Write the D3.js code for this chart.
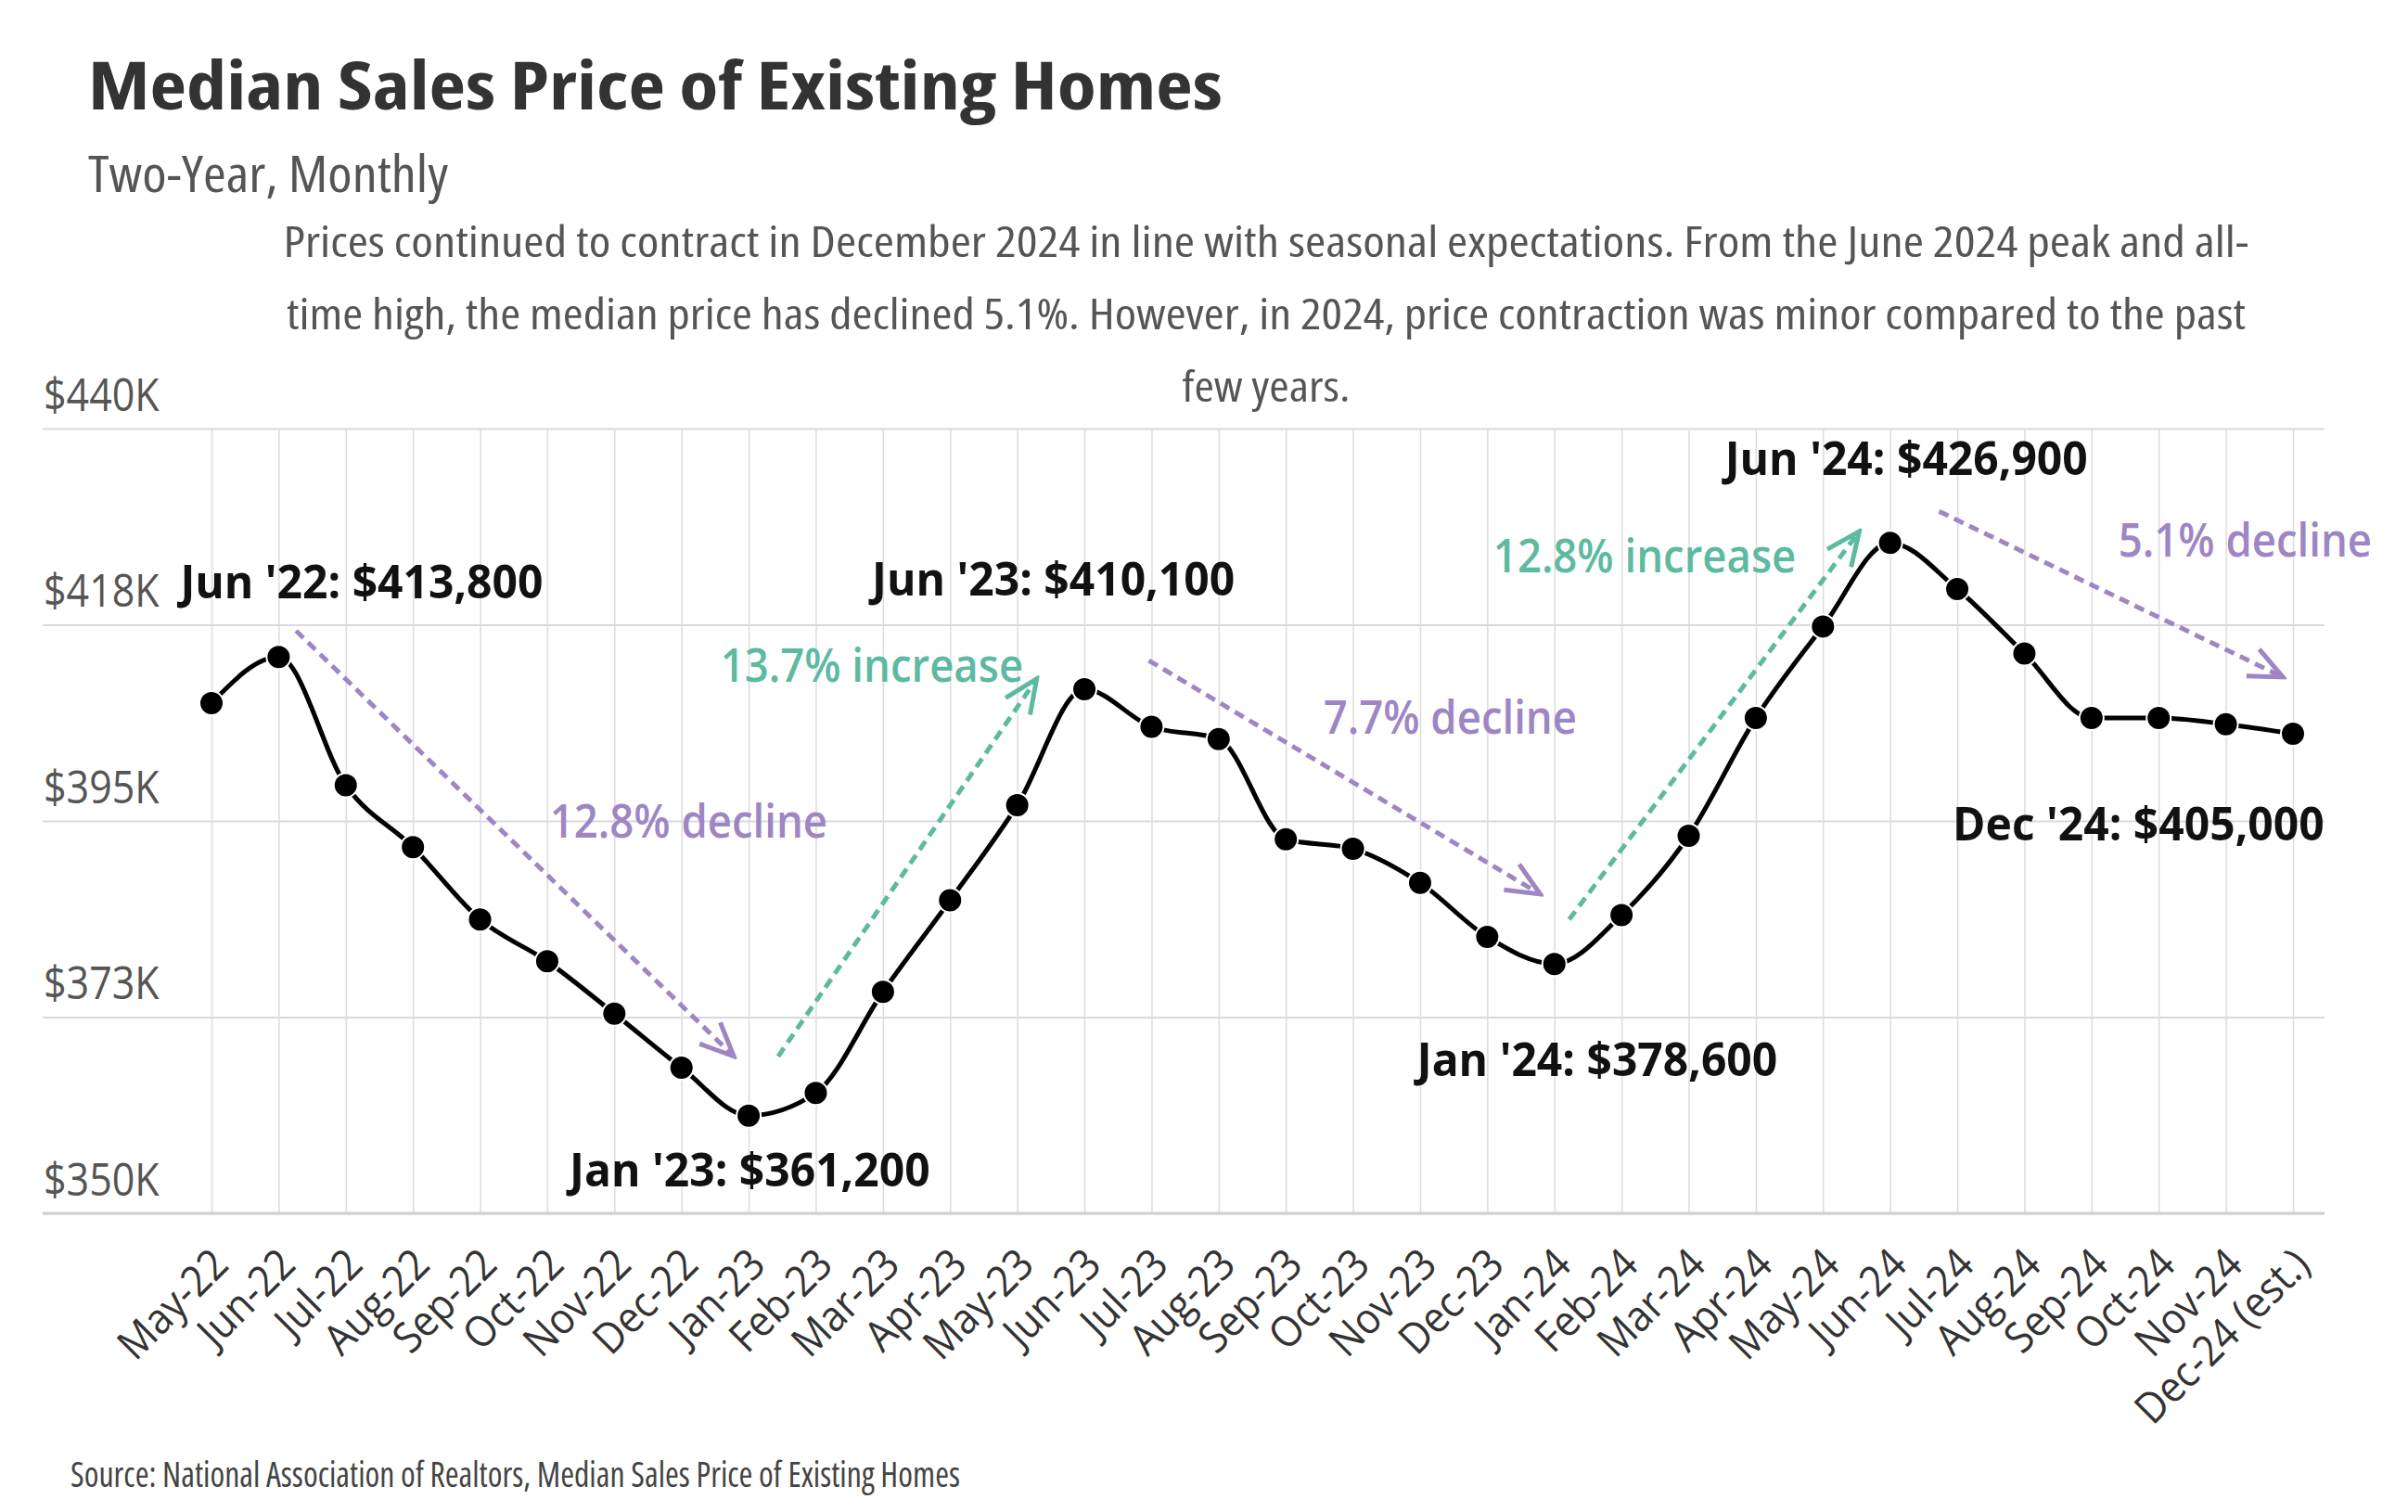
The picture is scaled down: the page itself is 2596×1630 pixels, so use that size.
<!DOCTYPE html>
<html><head><meta charset="utf-8">
<script src="https://cdn.jsdelivr.net/npm/d3@7"></script>
<style>
  body { margin: 0; background: #fff; }
  text { font-family: "Open Sans", sans-serif; font-stretch: 82%; }
  .plabel, .trend-label, .ytick, .xtick { font-stretch: 100%; }
</style>
</head><body>
<script>
// data
var months = ["May-22","Jun-22","Jul-22","Aug-22","Sep-22","Oct-22","Nov-22","Dec-22",
  "Jan-23","Feb-23","Mar-23","Apr-23","May-23","Jun-23","Jul-23","Aug-23","Sep-23","Oct-23","Nov-23","Dec-23",
  "Jan-24","Feb-24","Mar-24","Apr-24","May-24","Jun-24","Jul-24","Aug-24","Sep-24","Oct-24","Nov-24","Dec-24 (est.)"];
var prices = [408500,413800,399100,392000,383700,378900,372900,366700,
  361200,363800,375400,385900,396800,410100,405800,404400,392900,391800,387900,381700,
  378600,384200,393300,406800,417300,426900,421600,414200,406800,406800,406100,405000];
var yTickValues = [350000,372500,395000,417500,440000];
var yTickLabels = ["$350K","$373K","$395K","$418K","$440K"];

// labelled points: month index, text
var pointLabels = [
  {i:1,  text:"Jun '22: $413,800", dx:-106, dy:-63},
  {i:8,  text:"Jan '23: $361,200", dx:-193, dy:76},
  {i:13, text:"Jun '23: $410,100", dx:-229, dy:-101},
  {i:20, text:"Jan '24: $378,600", dx:-148, dy:121},
  {i:25, text:"Jun '24: $426,900", dx:-178, dy:-73},
  {i:31, text:"Dec '24: $405,000", dx:-367, dy:115}
];
// trend arrows in (month index, price) space
var trends = [
  {kind:"down", text:"12.8% decline",  from:[1.26,416800],  to:[7.78,368000],  at:[5.04,393100]},
  {kind:"up",   text:"13.7% increase", from:[8.44,368000],  to:[12.29,411300], at:[7.58,411000]},
  {kind:"down", text:"7.7% decline",   from:[13.96,413400], to:[19.79,386600], at:[16.56,405000]},
  {kind:"up",   text:"12.8% increase", from:[20.22,383700], to:[24.54,428200], at:[19.09,423500]},
  {kind:"down", text:"5.1% decline",   from:[25.73,430500], to:[30.85,411500], at:[28.40,425300]}
];

var W = 2596, H = 1630;
var plot = {left:46, right:2506, top:462, bottom:1308};
var colors = {down:"#9e86c4", up:"#5dbaa1"};

var svg = d3.select("body").append("svg")
    .attr("width", W).attr("height", H);

var x = d3.scalePoint().domain(months).range([228, 2472]);
var xi = d3.scaleLinear().domain([0, months.length - 1]).range([228, 2472]);
var y = d3.scaleLinear().domain([350000, 440000]).range([plot.bottom, plot.top]);

// narrow a text a little (the source font is narrower than Open Sans)
function squeeze(sel, k){
  sel.each(function(){
    var w = this.getComputedTextLength();
    d3.select(this).attr("textLength", w * k).attr("lengthAdjust", "spacingAndGlyphs");
  });
}

// titles
svg.append("text").attr("x", 95).attr("y", 118)
  .attr("textLength", 1223).attr("lengthAdjust", "spacingAndGlyphs")
  .style("font-size", "71px").style("font-weight", 700).style("fill", "#333")
  .text("Median Sales Price of Existing Homes");
svg.append("text").attr("x", 95).attr("y", 207)
  .attr("textLength", 388).attr("lengthAdjust", "spacingAndGlyphs")
  .style("font-size", "55px").style("fill", "#555")
  .text("Two-Year, Monthly");

var desc = [
  ["Prices continued to contract in December 2024 in line with seasonal expectations. From the June 2024 peak and all-", 2119],
  ["time high, the median price has declined 5.1%. However, in 2024, price contraction was minor compared to the past", 2112],
  ["few years.", 181]
];
svg.selectAll(".desc").data(desc).enter().append("text")
  .attr("class", "desc")
  .attr("x", 1365).attr("y", function(d, i){ return 277 + i * 78; })
  .attr("text-anchor", "middle")
  .attr("textLength", function(d){ return d[1]; }).attr("lengthAdjust", "spacingAndGlyphs")
  .style("font-size", "45px").style("fill", "#555")
  .text(function(d){ return d[0]; });

// y axis + horizontal grid
var yAxis = d3.axisLeft(y).tickValues(yTickValues)
  .tickFormat(function(d, i){ return yTickLabels[i]; })
  .tickSize(-(plot.right - plot.left));
var yg = svg.append("g").attr("transform", "translate(" + plot.left + ",0)").call(yAxis);
yg.select(".domain").remove();
yg.attr("font-family", null);
yg.selectAll(".tick line").attr("stroke", "#d9d9d9").attr("stroke-width", 2);
yg.selectAll(".tick text")
  .attr("class", "ytick")
  .attr("x", 1).attr("dy", -20).attr("text-anchor", "start")
  .style("font-size", "50px").style("fill", "#555")
  .call(squeeze, 0.86);

// x axis + vertical grid
var xAxis = d3.axisBottom(x).tickSize(-(plot.bottom - plot.top)).tickSizeOuter(0);
var xg = svg.append("g").attr("transform", "translate(0," + plot.bottom + ")").call(xAxis);
xg.select(".domain").remove();
xg.attr("font-family", null);
xg.selectAll(".tick line").attr("stroke", "#dcdcdc").attr("stroke-width", 1.5);
xg.selectAll(".tick text")
  .attr("class", "xtick")
  .attr("y", 0).attr("dy", 0)
  .attr("text-anchor", "end")
  .attr("transform", "translate(20,58) rotate(-45)")
  .style("font-size", "46px").style("fill", "#333")
  .call(squeeze, 0.92);
svg.append("line")
  .attr("x1", plot.left).attr("x2", plot.right)
  .attr("y1", plot.bottom).attr("y2", plot.bottom)
  .attr("stroke", "#d0d0d0").attr("stroke-width", 3);

// arrow markers
var defs = svg.append("defs");
["down", "up"].forEach(function(k){
  defs.append("marker")
    .attr("id", "head-" + k)
    .attr("markerUnits", "userSpaceOnUse")
    .attr("viewBox", "-40 -20 44 40")
    .attr("refX", 0).attr("refY", 0)
    .attr("markerWidth", 44).attr("markerHeight", 40)
    .attr("orient", "auto")
    .append("path")
    .attr("d", "M-36,-16L0,0L-36,16")
    .attr("fill", "none").attr("stroke", colors[k]).attr("stroke-width", 5);
});

svg.selectAll(".trend").data(trends).enter().append("line")
  .attr("class", "trend")
  .attr("x1", function(d){ return xi(d.from[0]); })
  .attr("y1", function(d){ return y(d.from[1]); })
  .attr("x2", function(d){ return xi(d.to[0]); })
  .attr("y2", function(d){ return y(d.to[1]); })
  .attr("stroke", function(d){ return colors[d.kind]; })
  .attr("stroke-width", 5)
  .attr("stroke-dasharray", "11,7")
  .attr("marker-end", function(d){ return "url(#head-" + d.kind + ")"; });

svg.selectAll(".trend-label").data(trends).enter().append("text")
  .attr("class", "trend-label")
  .attr("x", function(d){ return xi(d.at[0]); })
  .attr("y", function(d){ return y(d.at[1]); })
  .style("font-size", "50px").style("font-weight", 600)
  .style("fill", function(d){ return colors[d.kind]; })
  .text(function(d){ return d.text; })
  .call(squeeze, 0.91);

// price line
var line = d3.line()
  .x(function(d, i){ return x(months[i]); })
  .y(function(d){ return y(d); })
  .curve(d3.curveMonotoneX);

svg.append("path").datum(prices)
  .attr("d", line)
  .attr("fill", "none").attr("stroke", "#000").attr("stroke-width", 5);

svg.selectAll(".dot").data(prices).enter().append("circle")
  .attr("class", "dot")
  .attr("cx", function(d, i){ return x(months[i]); })
  .attr("cy", function(d){ return y(d); })
  .attr("r", 13)
  .attr("fill", "#000").attr("stroke", "#fff").attr("stroke-width", 2);

svg.selectAll(".plabel").data(pointLabels).enter().append("text")
  .attr("class", "plabel")
  .attr("x", function(d){ return x(months[d.i]) + d.dx; })
  .attr("y", function(d){ return y(prices[d.i]) + d.dy; })
  .style("font-size", "50px").style("font-weight", 700).style("fill", "#111")
  .text(function(d){ return d.text; })
  .call(squeeze, 0.96);

// source
svg.append("text").attr("x", 76).attr("y", 1603)
  .attr("textLength", 959).attr("lengthAdjust", "spacingAndGlyphs")
  .style("font-size", "38px").style("fill", "#444")
  .text("Source:  National Association of Realtors, Median Sales Price of Existing Homes");
</script>
</body></html>
